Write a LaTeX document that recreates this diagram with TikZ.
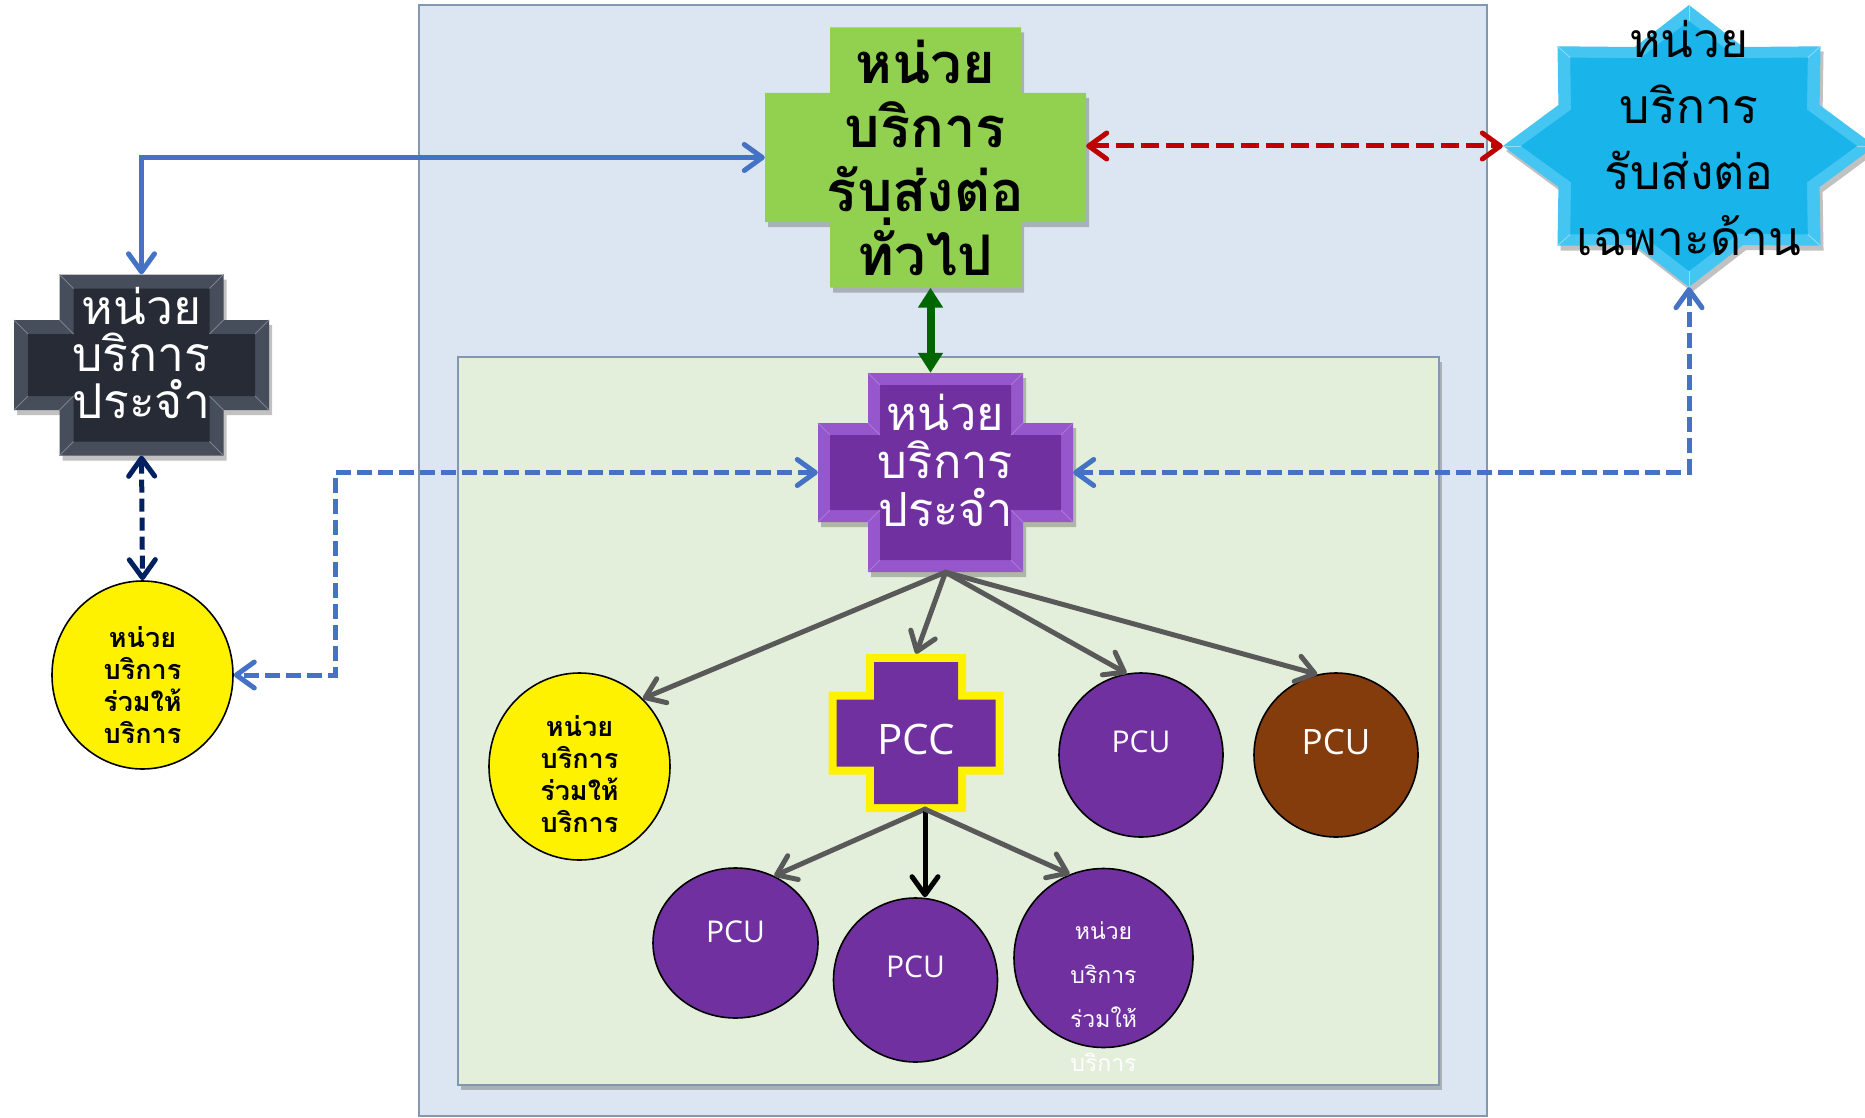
\documentclass[tikz,border=0pt]{standalone}
\usepackage{fontspec}
\usepackage{tikz}
\usetikzlibrary{arrows.meta,shapes.geometric,shadows,calc}
\newfontfamily\thai[Script=Thai]{Loma}
\newfontfamily\latin{Open Sans}

\definecolor{panelblue}{HTML}{DCE6F2}
\definecolor{panelgreen}{HTML}{E3EFDA}
\definecolor{panelline}{HTML}{8497B0}
\definecolor{crossgreen}{HTML}{92D050}
\definecolor{crossdark}{HTML}{262B35}
\definecolor{crossdarkhi}{HTML}{464D5B}
\definecolor{unitpurple}{HTML}{7030A0}
\definecolor{unitpurplehi}{HTML}{9757CC}
\definecolor{starcyan}{HTML}{19B4EA}
\definecolor{starcyanhi}{HTML}{45C6F2}
\definecolor{unitbrown}{HTML}{843C0C}
\definecolor{linkblue}{HTML}{4472C4}
\definecolor{linkred}{HTML}{C00000}
\definecolor{linkgreen}{HTML}{006600}
\definecolor{linknavy}{HTML}{002060}
\definecolor{linkgray}{HTML}{595959}

% cross outline: cx cy, vertical bar half w/h, horizontal bar half w/h, inset
\newcommand{\pluspath}[7]{({#1-#3+#7},{#2-#4+#7}) -- ({#1+#3-#7},{#2-#4+#7}) -- ({#1+#3-#7},{#2-#6+#7}) -- ({#1+#5-#7},{#2-#6+#7}) -- ({#1+#5-#7},{#2+#6-#7}) -- ({#1+#3-#7},{#2+#6-#7}) -- ({#1+#3-#7},{#2+#4-#7}) -- ({#1-#3+#7},{#2+#4-#7}) -- ({#1-#3+#7},{#2+#6-#7}) -- ({#1-#5+#7},{#2+#6-#7}) -- ({#1-#5+#7},{#2-#6+#7}) -- ({#1-#3+#7},{#2-#6+#7}) -- cycle}
\newcommand{\plusbevel}[8]{%
\foreach \sx in {-1,1} \foreach \sy in {-1,1} \foreach \p/\q in {#3/#4,#5/#6,#3/#6}
  \draw[#8] ({#1+\sx*\p},{#2+\sy*\q}) -- ({#1+\sx*(\p-#7)},{#2+\sy*(\q-#7)});}

\begin{document}
\begin{tikzpicture}[x=1pt,y=-1pt,
  >={Straight Barb[length=18pt,width=26pt,line cap=round,line join=round]},
  panel/.style={draw=panelline,line width=2pt},
  shade/.style={drop shadow={shadow xshift=3pt,shadow yshift=-5pt,opacity=0.35,fill=black!70}},
  plusnode/.style={rectangle,inner sep=0pt,align=center},
  plustext/.style={align=center,text=white,inner sep=0pt},
  unit/.style={circle,draw=black,line width=1.6pt,inner sep=0pt},
  unitoval/.style={ellipse,draw=black,line width=1.6pt,inner sep=0pt},
  unitlabel/.style={text=white,font=\latin\fontsize{30}{36}\selectfont,yshift=13pt},
  jointlabel/.style={align=center,font=\thai\bfseries\fontsize{27}{32}\selectfont},
  bluelink/.style={draw=linkblue,line width=5pt},
  bluedash/.style={draw=linkblue,line width=5pt,dash pattern=on 15pt off 6pt},
  reddash/.style={draw=linkred,line width=5pt,dash pattern=on 18pt off 7pt},
  navydash/.style={draw=linknavy,line width=5pt,dash pattern=on 13pt off 6pt},
  graylink/.style={draw=linkgray,line width=5pt,line cap=round},
  greenlink/.style={draw=linkgreen,line width=8pt,{Triangle[length=20pt,width=24pt]}-{Triangle[length=20pt,width=24pt]}}]
\useasboundingbox (0,0) rectangle (1865,1118);

\draw[panel,fill=panelblue] (419,5) rectangle (1487,1116);
\draw[panel,fill=panelgreen,shade] (458,357) rectangle (1439,1085);

\fill[crossgreen,shade] \pluspath{925.5}{157.5}{95.5}{130}{160.5}{64.5}{0};
\node[plusnode,minimum width=321pt,minimum height=260pt,font=\thai\bfseries\fontsize{56}{64}\selectfont] (general) at (925.5,157.5) {หน่วย\\บริการ\\รับส่งต่อ\\ทั่วไป};

\fill[starcyanhi,shade] plot[variable=\k,samples at={0,...,15}] ({1689+186*(1-0.24*mod(\k,2))*cos(90+22.5*\k)},{146-141*(1-0.24*mod(\k,2))*sin(90+22.5*\k)}) -- cycle;
\fill[starcyan] plot[variable=\k,samples at={0,...,15}] ({1689+168*(1-0.24*mod(\k,2))*cos(90+22.5*\k)},{146-125*(1-0.24*mod(\k,2))*sin(90+22.5*\k)}) -- cycle;
\foreach \k in {0,2,...,14}
  \draw[starcyanhi!60!white,line width=0.8pt] ({1689+186*cos(90+22.5*\k)},{146-141*sin(90+22.5*\k)}) -- ({1689+168*cos(90+22.5*\k)},{146-125*sin(90+22.5*\k)});
\node[plusnode,minimum width=372pt,minimum height=282pt,label={[align=center,font=\thai\fontsize{48}{66}\selectfont,yshift=8pt]center:หน่วย\\บริการ\\รับส่งต่อ\\เฉพาะด้าน}] (special) at (1689,146) {};

\fill[crossdarkhi,shade] \pluspath{141.5}{365}{82}{90.5}{127.5}{45}{0};
\fill[crossdark] \pluspath{141.5}{365}{82}{90.5}{127.5}{45}{14};
\plusbevel{141.5}{365}{82}{90.5}{127.5}{45}{14}{crossdarkhi!70!white,line width=0.8pt}
\node[plusnode,minimum width=255pt,minimum height=181pt,label={[plustext,font=\thai\fontsize{48}{47}\selectfont,yshift=12pt]center:หน่วย\\บริการ\\ประจำ}] (primary) at (141.5,365) {};

\fill[unitpurplehi,shade] \pluspath{945.5}{472.5}{77.5}{99.5}{127.5}{49.5}{0};
\fill[unitpurple] \pluspath{945.5}{472.5}{77.5}{99.5}{127.5}{49.5}{12};
\plusbevel{945.5}{472.5}{77.5}{99.5}{127.5}{49.5}{12}{unitpurplehi!80!white,line width=0.8pt}
\node[plusnode,minimum width=255pt,minimum height=199pt,label={[plustext,font=\thai\fontsize{47}{48}\selectfont,yshift=12pt]center:หน่วย\\บริการ\\ประจำ}] (regular) at (945.5,472.5) {};

\node[unitoval,fill=yellow,minimum width=181pt,minimum height=188pt,label={[jointlabel,yshift=-10pt]center:หน่วย\\บริการ\\ร่วมให้\\บริการ}] (joint) at (142.5,675) {};
\node[unitoval,fill=yellow,minimum width=181pt,minimum height=187pt,label={[jointlabel,yshift=-8pt]center:หน่วย\\บริการ\\ร่วมให้\\บริการ}] (jointin) at (579.5,766.5) {};

\fill[yellow] \pluspath{916}{733}{50}{79}{87.5}{41.5}{0};
\fill[unitpurple] \pluspath{916}{733}{50}{79}{87.5}{41.5}{8};
\node[plusnode,minimum width=175pt,minimum height=158pt,label={[plustext,font=\latin\fontsize{42}{48}\selectfont,yshift=-6pt]center:PCC}] (pcc) at (916,733) {};

\node[unit,fill=unitpurple,minimum size=164pt,label={[unitlabel]center:PCU}] (pcua) at (1141,755) {};
\node[unit,fill=unitbrown,minimum size=164pt,label={[unitlabel,font=\latin\fontsize{35}{40}\selectfont]center:PCU}] (pcub) at (1336,755) {};
\node[unitoval,fill=unitpurple,minimum width=165pt,minimum height=150pt,label={[unitlabel,yshift=-2pt]center:PCU}] (pcuc) at (735.5,943) {};
\node[unit,fill=unitpurple,minimum size=164pt,label={[unitlabel]center:PCU}] (pcud) at (915.5,980) {};
\node[unit,fill=unitpurple,minimum size=179pt] (jointpc) at (1103.5,958) {};
\node[align=center,text=white,font=\thai\fontsize{23}{44}\selectfont] (jointpctxt) at (1103.5,997) {หน่วย\\บริการ\\ร่วมให้\\บริการ};

\coordinate (leftbend) at (335,675);
\coordinate (greenbot) at ($(general.south)+(5,0)$);
\coordinate (pccbot) at ($(pcc.south)+(9,-3)$);

\draw[bluelink,<->] (primary.north) |- (general.west);
\draw[reddash,<->] (general.east |- special.west) -- (special.west);
\draw[greenlink] (greenbot) -- (greenbot |- regular.north);
\draw[navydash,<->] (primary.south) -- (joint.north);
\draw[bluedash,<->] (regular.west) -| (leftbend) -- (joint.east);
\draw[bluedash,<->] (regular.east) -| (special.south);

\draw[graylink,->] (regular.south) -- (jointin.47);
\draw[graylink,->] (regular.south) -- (pcc.north);
\draw[graylink,->] (regular.south) -- (pcua.100);
\draw[graylink,->] (regular.south) -- (pcub.103);
\draw[graylink,->] (pccbot) -- (pcuc.60);
\draw[graylink,draw=black,->] (pccbot) -- (pccbot |- pcud.north);
\draw[graylink,->] (pccbot) -- (jointpc.112);
\end{tikzpicture}
\end{document}
